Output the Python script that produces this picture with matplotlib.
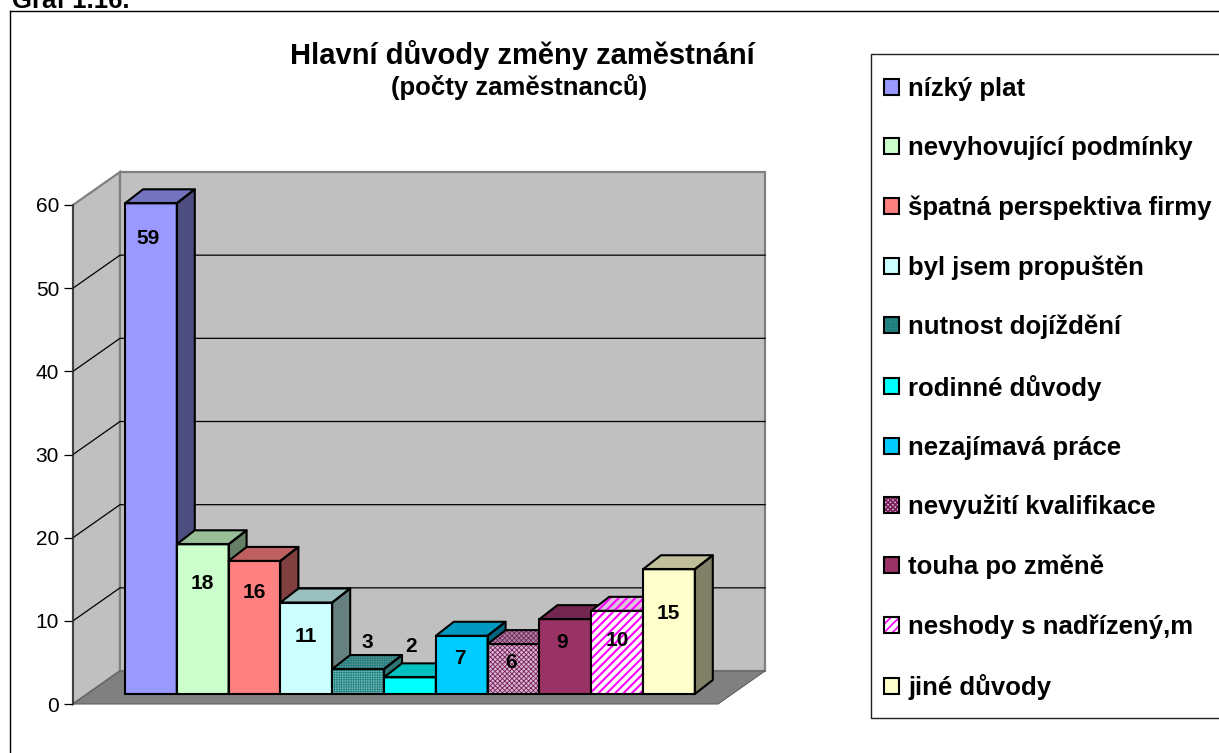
import matplotlib
matplotlib.use('Agg')
import matplotlib.pyplot as plt
from matplotlib.legend_handler import HandlerTuple
from matplotlib.lines import Line2D
from matplotlib.patches import Patch, Polygon, Rectangle

W = 1219
H = 753

categories = ['nízký plat', 'nevyhovující podmínky', 'špatná perspektiva firmy',
              'byl jsem propuštěn', 'nutnost dojíždění', 'rodinné důvody',
              'nezajímavá práce', 'nevyužití kvalifikace', 'touha po změně',
              'neshody s nadřízený,m', 'jiné důvody']
values = [59, 18, 16, 11, 3, 2, 7, 6, 9, 10, 15]
y_ticks = [0, 10, 20, 30, 40, 50, 60]

# front, top, side colours and hatch for each bar
front_colors = ['#9999FF', '#CCFFCC', '#FF8080', '#CCFFFF', '#70B8B8', '#00FFFF',
                '#00CCFF', '#D8B8D0', '#993366', '#FFFFFF', '#FFFFCC']
top_colors = ['#7373BF', '#99BF99', '#BF6060', '#99BFBF', '#5A9090', '#00BFBF',
              '#0099BF', '#A888A0', '#732650', '#E0C0E0', '#BFBF99']
side_colors = ['#4D4D80', '#668066', '#804040', '#668080', '#406868', '#008080',
               '#006680', '#705068', '#4D1A33', '#808080', '#808066']
hatches = [None, None, None, None, '+++++++', None, None, 'xxxxxxx', None, '////', None]
hatch_colors = [None, None, None, None, '#1F7F7F', None, None, '#7A1F5C', None, '#FF00FF', None]
hatch_widths = [1, 1, 1, 1, 0.5, 1, 1, 0.6, 1, 1.5, 1]

# label offset from bar top in pixels (x from bar centre, y downwards)
label_dx = [-3, 0, 0, 0, 9, 1, -2, -2, -3, 0, -1]
label_dy = [35, 39, 32, 34, -27, -31, 23, 18, 23, 30, 44]


def fx(x):
    return x / W


def fy(y):
    return 1 - y / H


plt.rcParams['font.family'] = ['Liberation Sans', 'DejaVu Sans']

fig = plt.figure(figsize=(W / 100, H / 100), dpi=100)
ax = fig.add_axes([fx(73), fy(704), 645 / W, 499 / H])

bar_w = 51.8
x_max = 645 / bar_w
y_scale = 499 / 60
ax.set_xlim(0, x_max)
ax.set_ylim(0, 60)
ax.patch.set_visible(False)

depth_x = 47 / bar_w
depth_y = 33 / y_scale
bar_x0 = 52 / bar_w
bar_y0 = 10 / y_scale
bar_dx = 18 / bar_w
bar_dy = 14 / y_scale

# walls and floor
ax.add_patch(Polygon([(0, 0), (depth_x, depth_y), (depth_x, 60 + depth_y), (0, 60)],
                     fc='#C0C0C0', ec='#808080', lw=1.6, clip_on=False, zorder=1))
ax.add_patch(Rectangle((depth_x, depth_y), x_max, 60, fc='#C0C0C0', ec='#808080', lw=1.6,
                       clip_on=False, zorder=1))
ax.add_patch(Polygon([(0, 0), (x_max, 0), (x_max + depth_x, depth_y), (depth_x, depth_y)],
                     fc='#808080', ec='#606060', lw=0.8, clip_on=False, zorder=2))

for v in y_ticks[1:-1]:
    ax.plot([0, depth_x, x_max + depth_x], [v, v + depth_y, v + depth_y], color='black', lw=0.9,
            clip_on=False, zorder=3)

# bars
for i, v in enumerate(values):
    x0 = bar_x0 + i
    x1 = x0 + 1
    y0 = bar_y0
    y1 = v + bar_y0
    z = 10 + i
    faces = [
        ([(x0, y1), (x1, y1), (x1 + bar_dx, y1 + bar_dy), (x0 + bar_dx, y1 + bar_dy)], top_colors[i]),
        ([(x1, y0), (x1 + bar_dx, y0 + bar_dy), (x1 + bar_dx, y1 + bar_dy), (x1, y1)], side_colors[i]),
        ([(x0, y0), (x1, y0), (x1, y1), (x0, y1)], front_colors[i]),
    ]
    for pts, c in faces:
        ax.add_patch(Polygon(pts, fc=c, ec='none', clip_on=False, zorder=z))
        if hatches[i]:
            plt.rcParams['hatch.linewidth'] = hatch_widths[i]
            ax.add_patch(Polygon(pts, fill=False, ec=hatch_colors[i], lw=0, hatch=hatches[i],
                                 clip_on=False, zorder=z))
        ax.add_patch(Polygon(pts, fill=False, ec='black', lw=1.5, joinstyle='round',
                             clip_on=False, zorder=z + 0.5))
    ax.annotate(str(v), xy=(x0 + 0.5, y1), xytext=(label_dx[i], -label_dy[i]),
                textcoords='offset pixels', ha='center', va='center', fontsize=15,
                fontweight='bold', color='black', zorder=40, annotation_clip=False)

# axis
ax.set_xticks([])
ax.set_yticks(y_ticks)
ax.tick_params(axis='y', length=6.5, width=0.9, pad=3.5, labelsize=15, color='black')
for name in ['top', 'right', 'bottom']:
    ax.spines[name].set_visible(False)
ax.spines['left'].set_linewidth(1.1)
ax.spines['left'].set_color('#303030')
ax.spines['left'].set_zorder(5)

# outer frame and heading
fig.add_artist(Line2D([fx(10), fx(W)], [fy(11), fy(11)], color='black', lw=1))
fig.add_artist(Line2D([fx(10), fx(10)], [fy(11), fy(H)], color='black', lw=1))
fig.text(fx(12), fy(8), 'Graf 1.16.', fontsize=18.5, fontweight='bold', ha='left', va='baseline')
fig.text(fx(522), fy(55), 'Hlavní důvody změny zaměstnání', fontsize=21, fontweight='bold',
         ha='center', va='center')
fig.text(fx(519), fy(87), '(počty zaměstnanců)', fontsize=18.5, fontweight='bold',
         ha='center', va='center')

# legend, frame drawn apart because it runs off the right edge
fig.add_artist(Rectangle((fx(871), fy(718)), (W + 20 - 871) / W, (718 - 54) / H,
                         transform=fig.transFigure, fc='white', ec='#202020', lw=1, zorder=1))
handles = []
for i in range(len(categories)):
    outline = Patch(facecolor=front_colors[i], edgecolor='black', lw=1.5)
    if hatches[i]:
        plt.rcParams['hatch.linewidth'] = hatch_widths[i] * 0.8
        hatched = Patch(facecolor=front_colors[i], edgecolor=hatch_colors[i], lw=0, hatch=hatches[i])
        frame_only = Patch(fill=False, edgecolor='black', lw=1.5)
        handles.append((hatched, frame_only))
    else:
        handles.append(outline)

leg = fig.legend(handles, categories, loc='upper left', bbox_to_anchor=(fx(884), fy(77)),
                 bbox_transform=fig.transFigure, prop={'size': 18.5, 'weight': 'bold'},
                 frameon=False, borderaxespad=0, borderpad=0, labelspacing=1.37,
                 handlelength=0.58, handleheight=0.58, handletextpad=0.36,
                 handler_map={tuple: HandlerTuple(ndivide=1, pad=0)})
leg.set_zorder(2)

fig.savefig('out.png', dpi=100)
